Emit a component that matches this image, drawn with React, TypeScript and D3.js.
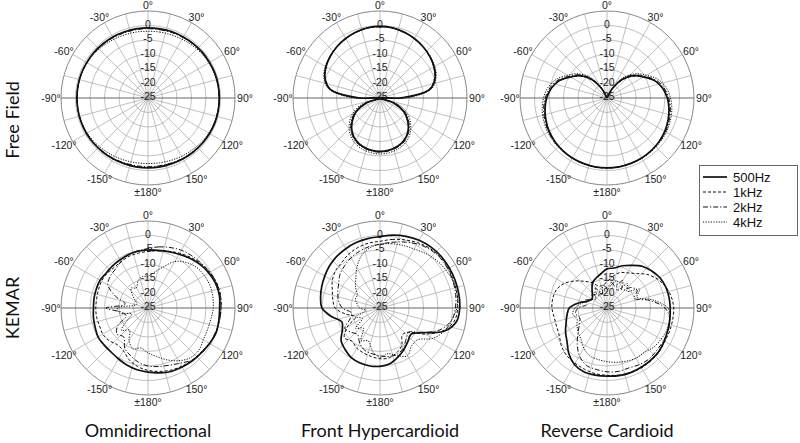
import React from "react";
import * as d3 from "d3";

// ---------- data ----------
const ANGLES = [0, 10, 20, 30, 40, 50, 60, 70, 80, 90, 100, 110, 120, 130, 140, 150, 160, 170, 180, 190, 200, 210, 220, 230, 240, 250, 260, 270, 280, 290, 300, 310, 320, 330, 340, 350];

const FREQS = ["500Hz", "1kHz", "2kHz", "4kHz"];
const COLUMN_TITLES = ["Omnidirectional", "Front Hypercardioid", "Reverse Cardioid"];
const ROW_TITLES = ["Free Field", "KEMAR"];
const ANGLE_TICKS = [0, 30, 60, 90, 120, 150, 180, 210, 240, 270, 300, 330];
const ANGLE_TICK_LABELS = ["0°", "30°", "60°", "90°", "120°", "150°", "±180°", "-150°", "-120°", "-90°", "-60°", "-30°"];
const DB_TICKS = [0, -5, -10, -15, -20, -25];
const DB_RINGS = [-20, -15, -10, -5, 0, 5];
const SPOKES = [0, 15, 30, 45, 60, 75, 90, 105, 120, 135, 150, 165, 180, 195, 210, 225, 240, 255, 270, 285, 300, 315, 330, 345];

// Free field — omnidirectional
const FF_OMNI_500 = [-0.8, -0.8, -0.7, -0.7, -0.6, -0.5, -0.5, -0.4, -0.4, -0.4, -0.4, -0.4, -0.5, -0.6, -0.7, -0.8, -0.9, -0.9, -0.9, -0.9, -0.9, -0.8, -0.7, -0.6, -0.5, -0.5, -0.5, -0.5, -0.5, -0.5, -0.6, -0.6, -0.7, -0.7, -0.8, -0.8];
const FF_OMNI_1K = [-0.9, -0.9, -0.8, -0.8, -0.7, -0.6, -0.5, -0.5, -0.4, -0.4, -0.4, -0.5, -0.5, -0.6, -0.7, -0.8, -0.9, -1.0, -1.0, -1.0, -0.9, -0.8, -0.7, -0.6, -0.6, -0.5, -0.5, -0.5, -0.5, -0.6, -0.6, -0.7, -0.7, -0.8, -0.8, -0.9];
const FF_OMNI_2K = [-1.1, -1.1, -1.0, -0.9, -0.8, -0.7, -0.6, -0.5, -0.5, -0.5, -0.5, -0.5, -0.6, -0.7, -0.9, -1.0, -1.2, -1.3, -1.3, -1.3, -1.2, -1.0, -0.9, -0.7, -0.6, -0.6, -0.5, -0.5, -0.5, -0.6, -0.7, -0.8, -0.9, -1.0, -1.1, -1.1];
const FF_OMNI_4K = [-2.0, -1.9, -1.8, -1.6, -1.3, -1.0, -0.8, -0.6, -0.5, -0.5, -0.5, -0.6, -0.8, -1.1, -1.5, -1.8, -2.1, -2.3, -2.4, -2.3, -2.1, -1.8, -1.5, -1.1, -0.8, -0.6, -0.5, -0.5, -0.5, -0.6, -0.8, -1.0, -1.3, -1.6, -1.8, -1.9];

// Free field — front hypercardioid
const FF_HYPER_500 = [-0.3, -0.4, -0.8, -1.3, -1.9, -2.6, -3.5, -4.8, -7.5, -18, -25, -20, -15.5, -12.5, -10, -8.3, -7.3, -6.8, -6.6, -6.8, -7.3, -8.3, -10, -12.5, -15.5, -20, -25, -18, -7.5, -4.8, -3.5, -2.6, -1.9, -1.3, -0.8, -0.4];
const FF_HYPER_1K = [-0.4, -0.5, -0.9, -1.4, -2.0, -2.7, -3.6, -5.0, -7.8, -18, -25, -20, -15.2, -12.2, -9.8, -8.1, -7.1, -6.6, -6.4, -6.6, -7.1, -8.1, -9.8, -12.2, -15.2, -20, -25, -18, -7.8, -5.0, -3.6, -2.7, -2.0, -1.4, -0.9, -0.5];
const FF_HYPER_2K = [-0.3, -0.4, -0.8, -1.3, -1.9, -2.6, -3.4, -4.7, -7.3, -17, -25, -19, -15, -12, -9.6, -7.9, -7.0, -6.5, -6.3, -6.5, -7.0, -7.9, -9.6, -12, -15, -19, -25, -17, -7.3, -4.7, -3.4, -2.6, -1.9, -1.3, -0.8, -0.4];
const FF_HYPER_4K = [-0.5, -0.6, -1.0, -1.4, -1.9, -2.5, -3.2, -4.4, -7, -16, -25, -18, -14, -11.2, -8.9, -7.3, -6.4, -5.9, -5.7, -5.9, -6.4, -7.3, -8.9, -11.2, -14, -18, -25, -16, -7, -4.4, -3.2, -2.5, -1.9, -1.4, -1.0, -0.6];

// Free field — reverse cardioid
const FF_REV_500 = [-25, -25, -25, -21, -16.5, -13, -10.5, -7.5, -5.5, -4.2, -3.3, -2.6, -2, -1.6, -1.3, -1.1, -1, -0.9, -0.9, -0.9, -1, -1.1, -1.3, -1.6, -2, -2.6, -3.3, -4.2, -5.5, -7.5, -10.5, -13, -16.5, -21, -25, -25];
const FF_REV_1K = [-25, -25, -25, -21.5, -17, -13.3, -10.6, -7.6, -5.5, -4.1, -3.2, -2.5, -1.9, -1.5, -1.3, -1.1, -1, -0.9, -0.9, -0.9, -1, -1.1, -1.3, -1.5, -1.9, -2.5, -3.2, -4.1, -5.5, -7.6, -10.6, -13.3, -17, -21.5, -25, -25];
const FF_REV_2K = [-25, -25, -25, -20.5, -16, -12.6, -10, -7, -5, -3.7, -2.8, -2.2, -1.7, -1.4, -1.2, -1.0, -1, -0.9, -0.9, -0.9, -1, -1.0, -1.2, -1.4, -1.7, -2.2, -2.8, -3.7, -5, -7, -10, -12.6, -16, -20.5, -25, -25];
const FF_REV_4K = [-25, -25, -25, -20, -15.5, -12, -9.3, -6.3, -4.3, -3.1, -2.3, -1.8, -1.4, -1.2, -1.1, -1.0, -1.0, -0.9, -0.9, -0.9, -1.0, -1.0, -1.1, -1.2, -1.4, -1.8, -2.3, -3.1, -4.3, -6.3, -9.3, -12, -15.5, -20, -25, -25];

// KEMAR — omnidirectional
const KM_OMNI_500 = [-5, -4.8, -4.3, -3.6, -2.6, -1.6, -0.8, -0.2, 0, -0.3, -0.2, 0, -0.5, -1, -1.2, -1.5, -1.7, -2.3, -2.9, -3.4, -4.0, -4.7, -5.2, -5.2, -5.1, -5.6, -5.9, -6.2, -6.1, -6.0, -5.9, -6.2, -6.0, -5.8, -5.4, -5.1];
const KM_OMNI_1K = [-5.5, -5, -4.2, -3.2, -2.2, -1.2, -0.4, 0.2, 0.4, 0.2, 0, -0.2, -0.6, -1.2, -1.5, -1.8, -2.2, -2.8, -3.5, -4.5, -6, -8, -8.5, -7.5, -7, -7.2, -7, -7, -7, -6.8, -6.5, -6.5, -6.8, -6.5, -6, -5.8];
const KM_OMNI_2K = [-4.5, -3.6, -2.8, -2, -1.5, -1, -0.3, 0.2, 0.3, 0.2, 0, -0.3, -0.5, -0.8, -1.5, -3, -4, -4.5, -5, -6, -7.5, -9, -12, -11, -13, -17, -16, -10.5, -17, -13, -9, -8, -7.5, -6.5, -5.5, -5];
const KM_OMNI_4K = [-14, -12.5, -10, -6.5, -4.5, -3.2, -2.6, -2.3, -2.3, -2.5, -3, -3.2, -3, -2.2, -2.5, -4, -6, -8, -9.5, -11, -10, -12, -15, -13, -17, -19, -15, -14.5, -20, -21, -20, -18, -16, -17, -15, -14];

// KEMAR — front hypercardioid
const KM_HYPER_500 = [-0.4, 0.5, 1.3, 2, 2.4, 2.6, 2.6, 2.6, 2.6, 2.5, 1.8, -1.5, -8, -11, -10, -8.5, -7, -5.5, -4.9, -4.7, -4.8, -5.2, -6.3, -7.5, -10, -11, -8, -5, -4.2, -3.6, -3, -2.3, -1.8, -1.4, -1.0, -0.7];
const KM_HYPER_1K = [-2, -1, 0, 1, 1.8, 2.2, 2.2, 2, 2, 1.8, 1, -2, -7, -12, -13, -10, -8.5, -7.5, -7.5, -8, -8.5, -9, -10, -9, -12, -16, -13, -9.5, -8.5, -7.5, -6, -5, -4.5, -3.5, -2.8, -2.3];
const KM_HYPER_2K = [-3, -2, -0.8, 0.5, 1.5, 2, 2, 1.8, 1.5, 1, 0, -3, -8, -12, -11, -9, -8, -8, -8.5, -9, -9.5, -11, -13, -12, -11, -14, -15, -12, -10.5, -9.5, -8.5, -7, -6, -5, -4.2, -3.5];
const KM_HYPER_4K = [-3, -2.5, -2, -1.5, -0.5, 0.5, 1.2, 1.8, 2, 1.5, 0, -1.5, -4, -8, -8, -6, -7.5, -9, -8, -10, -13, -12, -16, -14, -18, -16, -20, -18, -17, -16, -16, -14, -12, -9, -6, -4];

// KEMAR — reverse cardioid
const KM_REV_500 = [-11.5, -11, -9.5, -8, -6.2, -5, -4, -3.5, -3.3, -3.2, -3, -2.7, -2.2, -1.7, -1.5, -1.4, -1.3, -1.3, -1.5, -1.5, -1.6, -2.5, -4.5, -7, -8.5, -10, -11, -12, -15, -18, -19, -18.5, -17, -15, -14, -13];
const KM_REV_1K = [-16, -14, -12, -11, -9.5, -7, -5, -3.5, -2.5, -2, -2, -2, -2, -1.5, -1.3, -1.2, -1.2, -1.5, -1.8, -2, -2.5, -3, -3.5, -4.5, -6, -6.5, -6.5, -6, -6, -6.5, -8, -10.5, -13, -15, -17, -17];
const KM_REV_2K = [-18, -16, -17, -14, -17, -14, -13, -15, -10, -5, -3, -2.5, -2.5, -2.5, -2.2, -2.5, -3, -2.8, -3, -3.5, -4, -6, -9, -12, -14, -15, -14, -15, -18, -17, -19, -18, -19, -17, -20, -17];
const KM_REV_4K = [-19, -17, -15, -18, -14, -16, -12, -14, -9, -4, -3, -3, -3.5, -4, -5, -5, -5.5, -6, -6.5, -7, -7.5, -9, -11, -12, -13, -14, -13, -14, -16, -18, -19, -20, -18, -20, -18, -19];

const PANELS = [
  [FF_OMNI_500, FF_OMNI_1K, FF_OMNI_2K, FF_OMNI_4K],
  [FF_HYPER_500, FF_HYPER_1K, FF_HYPER_2K, FF_HYPER_4K],
  [FF_REV_500, FF_REV_1K, FF_REV_2K, FF_REV_4K],
  [KM_OMNI_500, KM_OMNI_1K, KM_OMNI_2K, KM_OMNI_4K],
  [KM_HYPER_500, KM_HYPER_1K, KM_HYPER_2K, KM_HYPER_4K],
  [KM_REV_500, KM_REV_1K, KM_REV_2K, KM_REV_4K],
];

// ---------- layout / style ----------
const W = 800;
const H = 443;
const R = 87;
const COL_X = [148, 380, 607];
const ROW_Y = [98, 308];
const LINE_STYLES = [
  { width: 1.7, dash: undefined as string | undefined },
  { width: 1, dash: "3,2" },
  { width: 1, dash: "5,2,1.2,2" },
  { width: 1, dash: "1.2,1.4" },
];
const TICK_FONT = "'Liberation Sans', Arial, sans-serif";
const TITLE_FONT = "Lato, 'Open Sans', sans-serif";
const GRID = "#a6a6a6";

const rScale = d3.scaleLinear().domain([-25, 5]).range([0, R]).clamp(true);
const radialLine = d3
  .lineRadial<number>()
  .angle((_d, i) => (ANGLES[i] * Math.PI) / 180)
  .radius((d) => rScale(d))
  .curve(d3.curveCatmullRomClosed.alpha(0.5));

function Polar({ cx, cy, series }: { cx: number; cy: number; series: number[][] }) {
  const rad = (a: number) => (a * Math.PI) / 180;
  return (
    <g transform={`translate(${cx},${cy})`}>
      {DB_RINGS.map((v) => (
        <circle key={v} r={rScale(v)} fill="none" stroke={v === 5 ? "#7a7a7a" : GRID} strokeWidth={v === 5 ? 0.9 : 0.7} />
      ))}
      {SPOKES.map((a) => (
        <line
          key={a}
          x1={0}
          y1={0}
          x2={R * Math.sin(rad(a))}
          y2={-R * Math.cos(rad(a))}
          stroke={a === 90 || a === 270 ? "#666" : GRID}
          strokeWidth={a === 90 || a === 270 ? 1 : 0.7}
        />
      ))}
      {DB_TICKS.map((v) => (
        <text
          key={v}
          x={0}
          y={-rScale(v) - 2}
          textAnchor="middle"
          dominantBaseline="central"
          fontFamily={TICK_FONT}
          fontSize={10.5}
          fill="#222"
        >
          {String(v)}
        </text>
      ))}
      {ANGLE_TICKS.map((a, i) => (
        <text
          key={a}
          x={(R + 10) * Math.sin(rad(a))}
          y={-(R + 6.5) * Math.cos(rad(a))}
          textAnchor="middle"
          dominantBaseline="central"
          fontFamily={TICK_FONT}
          fontSize={10.5}
          fill="#222"
        >
          {ANGLE_TICK_LABELS[i]}
        </text>
      ))}
      {[3, 2, 1, 0].map((k) => (
        <path
          key={k}
          d={radialLine(series[k]) || ""}
          fill="none"
          stroke="#111"
          strokeWidth={LINE_STYLES[k].width}
          strokeDasharray={LINE_STYLES[k].dash}
          strokeLinejoin="round"
        />
      ))}
    </g>
  );
}

export default function App() {
  return (
    <svg
      width={W}
      height={H}
      viewBox={`0 0 ${W} ${H}`}
      style={{ position: "absolute", left: 0, top: 0, background: "#fff" }}
    >
      <rect width={W} height={H} fill="#fff" />
      {PANELS.map((s, i) => (
        <Polar key={i} cx={COL_X[i % 3]} cy={ROW_Y[Math.floor(i / 3)]} series={s} />
      ))}
      {ROW_TITLES.map((t, i) => (
        <text
          key={t}
          transform={`translate(19,${i === 0 ? 120 : 308}) rotate(-90)`}
          textAnchor="middle"
          fontFamily={TITLE_FONT}
          fontSize={18}
          fill="#111"
        >
          {t}
        </text>
      ))}
      {COLUMN_TITLES.map((t, i) => (
        <text key={t} x={COL_X[i]} y={437} textAnchor="middle" fontFamily={TITLE_FONT} fontSize={18} fill="#111">
          {t}
        </text>
      ))}
      <g>
        <rect x={699.5} y={165.5} width={98} height={70} fill="#fff" stroke="#666" strokeWidth={1} />
        {FREQS.map((f, i) => (
          <g key={f}>
            <line
              x1={703}
              x2={727}
              y1={177 + i * 15}
              y2={177 + i * 15}
              stroke="#111"
              strokeWidth={LINE_STYLES[i].width}
              strokeDasharray={LINE_STYLES[i].dash}
            />
            <text x={733} y={177 + i * 15} dominantBaseline="central" fontFamily={TICK_FONT} fontSize={13} fill="#111">
              {f}
            </text>
          </g>
        ))}
      </g>
    </svg>
  );
}
